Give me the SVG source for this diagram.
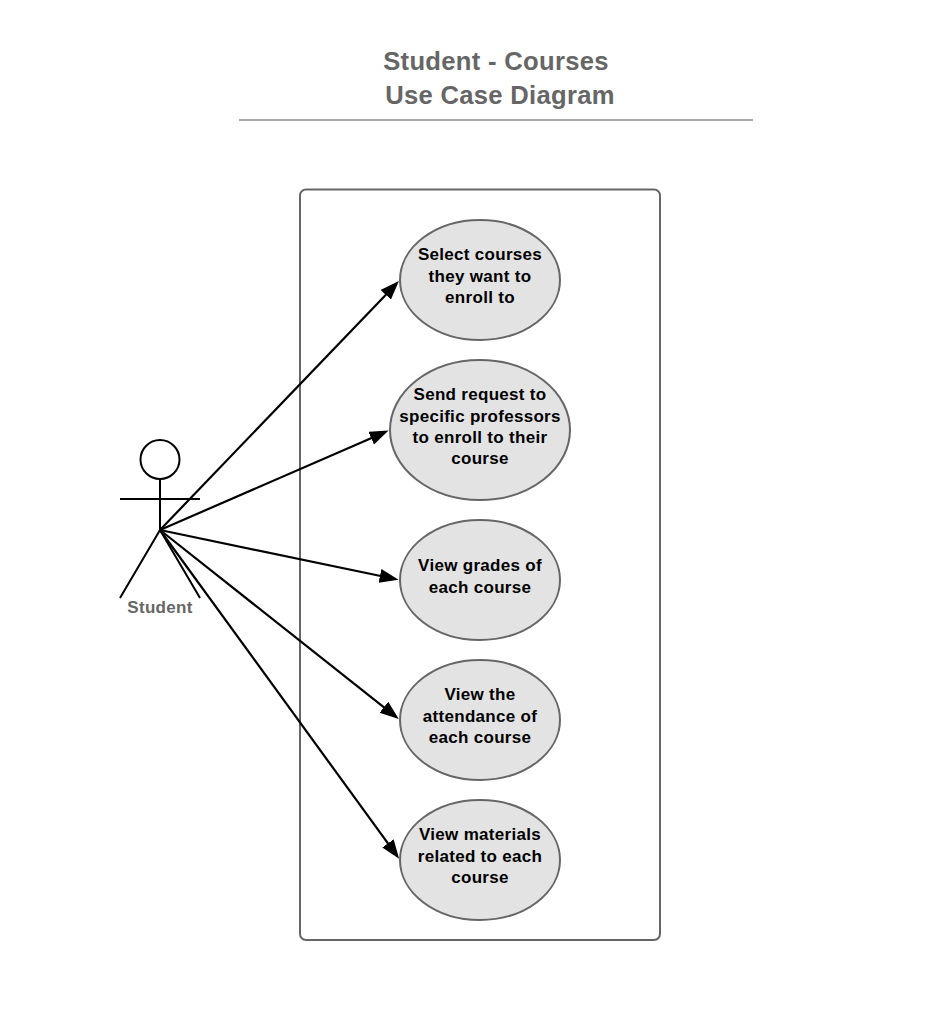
<svg xmlns="http://www.w3.org/2000/svg" width="947" height="1022" viewBox="0 0 947 1022">
<style>
text{font-family:"Liberation Sans",Arial,sans-serif;font-weight:bold;text-anchor:middle}
.t{font-size:17px;letter-spacing:.3px;fill:#000}
.h{font-size:25.6px;letter-spacing:.3px;fill:#666}
.u{fill:#e3e3e3;stroke:#666;stroke-width:2}
.c{fill:none;stroke:#000;stroke-width:2.2;marker-end:url(#a)}
</style>
<defs><marker id="a" markerUnits="userSpaceOnUse" markerWidth="20" markerHeight="15" refX="13" refY="7" orient="auto"><path d="M0 0L19 7L0 14Z" fill="#000"/></marker></defs>
<rect width="947" height="1022" fill="#fff"/>
<g id="title"><text class="h" x="496" y="69.5">Student - Courses</text><text class="h" x="500" y="103.5">Use Case Diagram</text><path d="M239 120H753" stroke="#aaa" stroke-width="2"/></g>
<g id="system"><rect x="300" y="189.5" width="360" height="750.5" rx="6" fill="#fff" stroke="#666" stroke-width="2"/></g>
<g id="actor" fill="none" stroke="#000" stroke-width="2"><circle cx="160" cy="459.5" r="19.5" fill="#fff"/><path d="M160 479V530M120 499H200M160 530L120 598M160 530L200 598"/><text x="160" y="612.5" font-size="17" letter-spacing=".3" fill="#666" stroke="none">Student</text></g>
<g id="uc1"><ellipse class="u" cx="480" cy="280" rx="80" ry="60"/><text class="t" x="480" y="260">Select courses</text><text class="t" x="480" y="281.500">they want to</text><text class="t" x="480" y="303">enroll to</text></g>
<g id="uc2"><ellipse class="u" cx="480" cy="430" rx="90" ry="70"/><text class="t" x="480" y="400">Send request to</text><text class="t" x="480" y="421.500">specific professors</text><text class="t" x="480" y="443">to enroll to their</text><text class="t" x="480" y="464">course</text></g>
<g id="uc3"><ellipse class="u" cx="480" cy="580" rx="80" ry="60"/><text class="t" x="480" y="571">View grades of</text><text class="t" x="480" y="592.500">each course</text></g>
<g id="uc4"><ellipse class="u" cx="480" cy="720" rx="80" ry="60"/><text class="t" x="480" y="700">View the</text><text class="t" x="480" y="721.500">attendance of</text><text class="t" x="480" y="743">each course</text></g>
<g id="uc5"><ellipse class="u" cx="480" cy="860" rx="80" ry="60"/><text class="t" x="480" y="840">View materials</text><text class="t" x="480" y="861.500">related to each</text><text class="t" x="480" y="883">course</text></g>
<g id="connectors">
<path class="c" d="M160 530L394.800 285.400"/><path class="c" d="M160 530L383.100 433"/><path class="c" d="M160 530L392.700 578.500"/><path class="c" d="M160 530L394.100 715.300"/><path class="c" d="M160 530L395.600 853.900"/>
</g>
</svg>
